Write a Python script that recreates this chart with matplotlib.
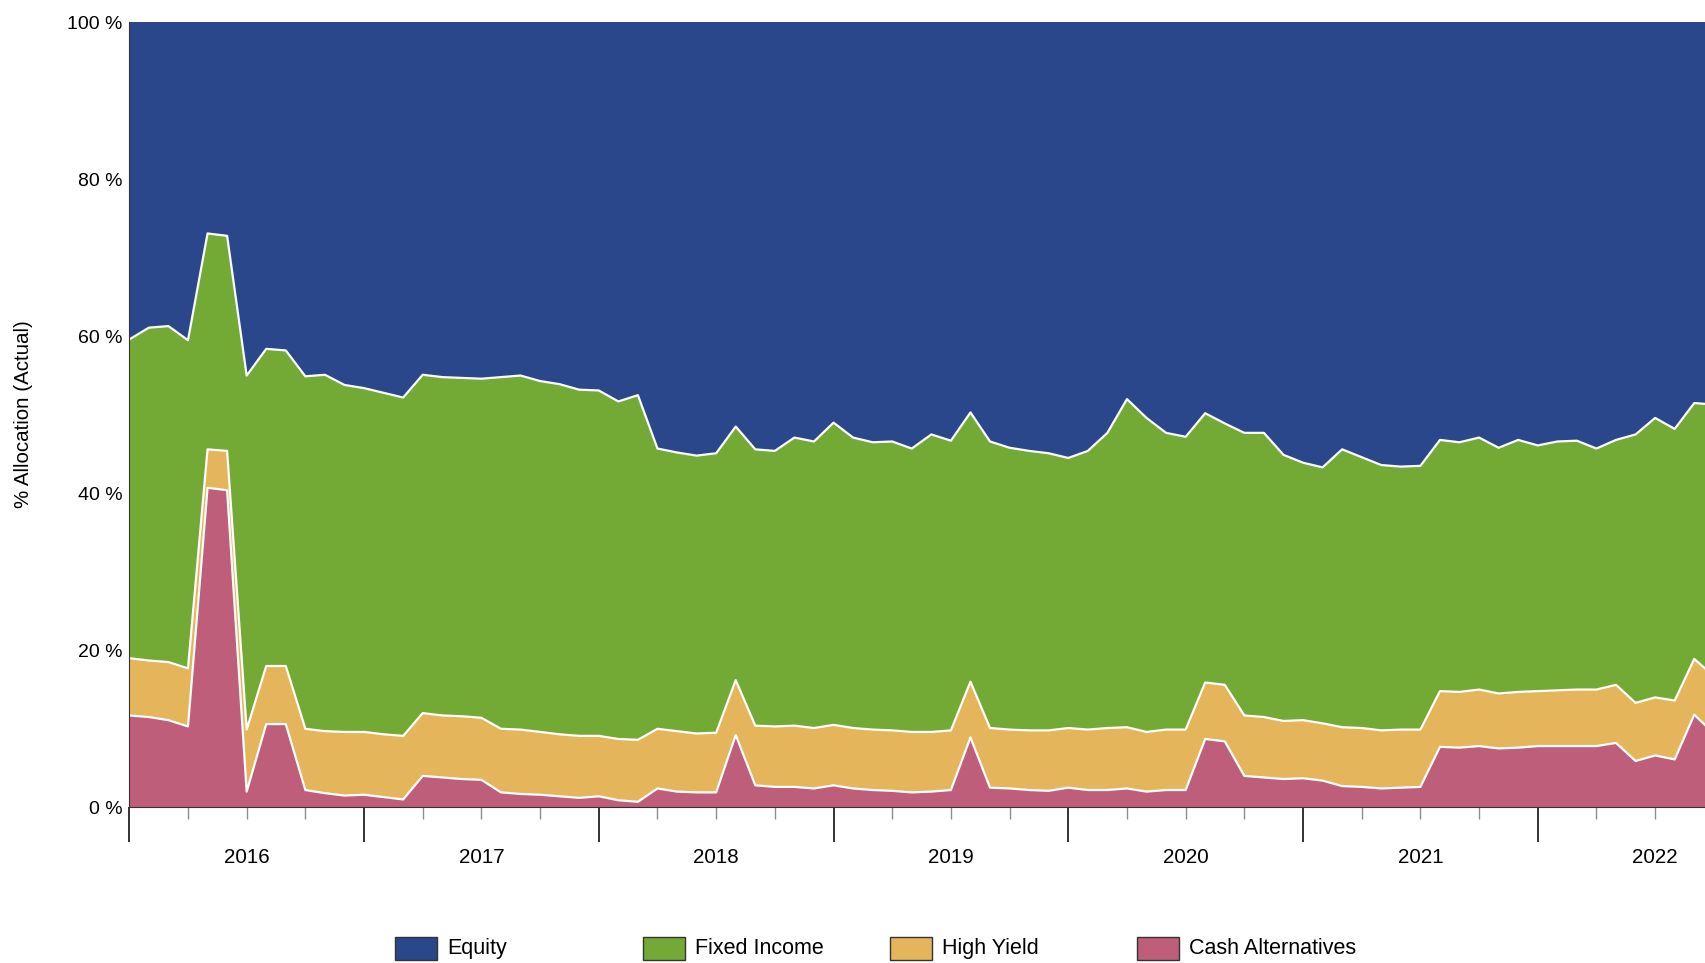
import numpy as np
import matplotlib.pyplot as plt
from matplotlib.patches import Rectangle

# monthly allocation (%), Jan 2016 onward
cash = [11.7, 11.5, 11.1, 10.3, 40.7, 40.4, 2.0, 10.6, 10.6, 2.2, 1.8, 1.5,
        1.6, 1.3, 1.0, 4.0, 3.8, 3.6, 3.5, 1.9, 1.7, 1.6, 1.4, 1.2,
        1.4, 0.9, 0.7, 2.4, 2.0, 1.9, 1.9, 9.2, 2.8, 2.6, 2.6, 2.4,
        2.8, 2.4, 2.2, 2.1, 1.9, 2.0, 2.2, 8.9, 2.5, 2.4, 2.2, 2.1,
        2.5, 2.2, 2.2, 2.4, 2.0, 2.2, 2.2, 8.7, 8.4, 4.0, 3.8, 3.6,
        3.7, 3.4, 2.7, 2.6, 2.4, 2.5, 2.6, 7.7, 7.6, 7.8, 7.5, 7.6,
        7.8, 7.8, 7.8, 7.8, 8.2, 5.9, 6.6, 6.1, 11.8, 9.4]
high_yield = [7.3, 7.2, 7.4, 7.4, 4.9, 5.0, 7.9, 7.4, 7.4, 7.8, 7.9, 8.1,
              8.0, 8.0, 8.1, 8.0, 7.9, 8.0, 7.9, 8.1, 8.2, 8.0, 7.9, 7.9,
              7.7, 7.8, 7.9, 7.6, 7.7, 7.5, 7.6, 7.0, 7.6, 7.7, 7.8, 7.7,
              7.7, 7.7, 7.7, 7.7, 7.7, 7.6, 7.6, 7.1, 7.6, 7.5, 7.6, 7.7,
              7.6, 7.7, 7.9, 7.8, 7.6, 7.7, 7.7, 7.2, 7.2, 7.7, 7.7, 7.4,
              7.4, 7.3, 7.5, 7.5, 7.4, 7.4, 7.3, 7.1, 7.1, 7.2, 7.0, 7.1,
              7.0, 7.1, 7.2, 7.2, 7.4, 7.4, 7.4, 7.5, 7.1, 7.3]
fixed_income = [40.6, 42.4, 42.8, 41.8, 27.5, 27.4, 45.1, 40.4, 40.2, 44.9, 45.4, 44.2,
                43.8, 43.5, 43.1, 43.1, 43.1, 43.1, 43.2, 44.8, 45.1, 44.7, 44.6, 44.1,
                44.0, 43.0, 43.9, 35.7, 35.5, 35.4, 35.6, 32.3, 35.2, 35.1, 36.7, 36.5,
                38.5, 37.0, 36.6, 36.8, 36.1, 37.9, 36.9, 34.3, 36.5, 35.9, 35.6, 35.3,
                34.4, 35.5, 37.6, 41.8, 40.0, 37.8, 37.3, 34.3, 33.3, 36.0, 36.2, 33.9,
                32.8, 32.6, 35.4, 34.5, 33.8, 33.5, 33.6, 32.0, 31.8, 32.1, 31.3, 32.1,
                31.3, 31.7, 31.7, 30.7, 31.2, 34.2, 35.6, 34.6, 32.6, 34.6]
equity = [40.4, 38.9, 38.7, 40.5, 26.9, 27.2, 45.0, 41.6, 41.8, 45.1, 44.9, 46.2,
          46.6, 47.2, 47.8, 44.9, 45.2, 45.3, 45.4, 45.2, 45.0, 45.7, 46.1, 46.8,
          46.9, 48.3, 47.5, 54.3, 54.8, 55.2, 54.9, 51.5, 54.4, 54.6, 52.9, 53.4,
          51.0, 52.9, 53.5, 53.4, 54.3, 52.5, 53.3, 49.7, 53.4, 54.2, 54.6, 54.9,
          55.5, 54.6, 52.3, 48.0, 50.4, 52.3, 52.8, 49.8, 51.1, 52.3, 52.3, 55.1,
          56.1, 56.7, 54.4, 55.4, 56.4, 56.6, 56.5, 53.2, 53.5, 52.9, 54.2, 53.2,
          53.9, 53.4, 53.3, 54.3, 53.2, 52.5, 50.4, 51.8, 48.5, 48.7]
years = ['2016', '2017', '2018', '2019', '2020', '2021', '2022']
names = ['Equity', 'Fixed Income', 'High Yield', 'Cash Alternatives']
colors = ['#2A478C', '#73AA35', '#E5B55C', '#BE5E7B']

plt.rcParams['font.family'] = ['Liberation Sans', 'DejaVu Sans']

W, H = 1706, 963
fig = plt.figure(figsize=(W / 100, H / 100), dpi=100)
ax = fig.add_axes([129.3 / W, 1 - 807.3 / H, 1 - 129.3 / W, 785 / H])

months = np.arange(len(cash))
ax.stackplot(months, cash, high_yield, fixed_income, equity,
             colors=colors[::-1], linewidth=0, antialiased=False)
tops = np.cumsum([cash, high_yield, fixed_income], axis=0)
for t in tops:
    ax.plot(months, t, color='white', lw=1.6)

ax.set_xlim(0, 80.6)
ax.set_ylim(0, 100)

major = np.arange(0, 81, 12)
minor = [m for m in range(3, 81, 3) if m % 12]
ax.set_xticks(major)
ax.set_xticklabels([])
ax.set_xticks(minor, minor=True)
lab = []
for m in minor:
    lab.append(years[m // 12] if m % 12 == 6 else '')
ax.set_xticklabels(lab, minor=True)
ax.tick_params(axis='x', which='major', length=25, width=1.4, color='#333333')
ax.tick_params(axis='x', which='minor', length=8.6, width=1, color='#8c8c8c',
               pad=21, labelsize=14.8)

ax.set_yticks(range(0, 101, 20))
ax.set_yticklabels([f'{v} %' for v in range(0, 101, 20)])
ax.tick_params(axis='y', length=0, pad=5, labelsize=14)

for s in ['top', 'right']:
    ax.spines[s].set_visible(False)
ax.spines['left'].set_color('#333333')
ax.spines['bottom'].set_color('#333333')

fig.text(24 / W, 1 - 414 / H, '% Allocation (Actual)', rotation=90,
         ha='center', va='center', fontsize=14.8)

# legend
for k, (name, c) in enumerate(zip(names, colors)):
    x0 = [395, 643, 890, 1137][k]
    fig.add_artist(Rectangle((x0 / W, 3 / H), 42 / W, 23 / H, transform=fig.transFigure,
                             facecolor=c, edgecolor='#333333', lw=1))
    fig.text((x0 + 52) / W, 1 - 948 / H, name, ha='left', va='center', fontsize=15.5)

fig.savefig('out.png', dpi=100)
